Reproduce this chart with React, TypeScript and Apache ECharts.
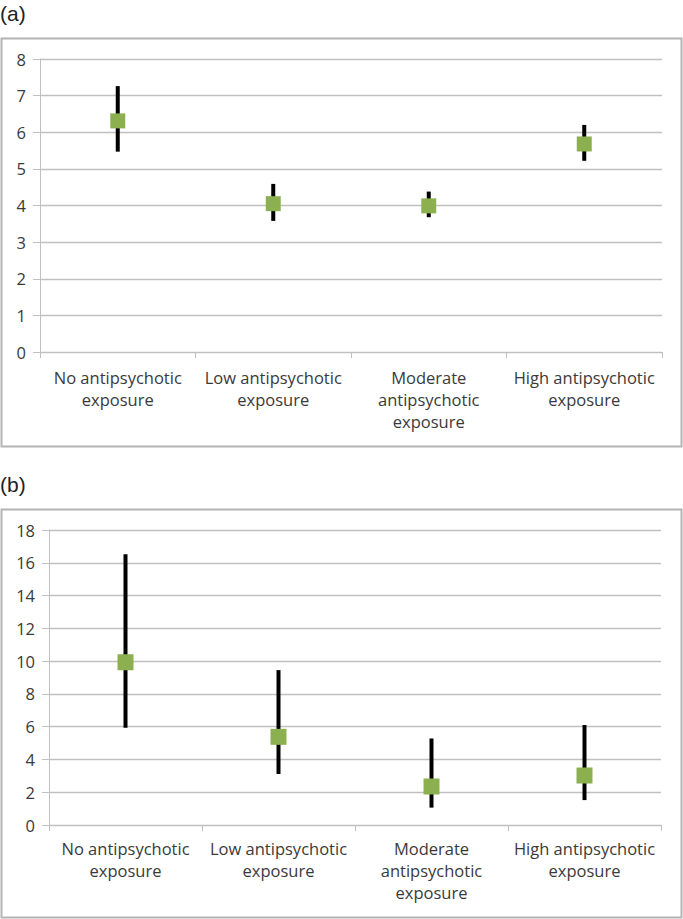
import React, { useEffect, useRef } from "react";
import * as echarts from "echarts";

const categories = [
  "No antipsychotic\nexposure",
  "Low antipsychotic\nexposure",
  "Moderate\nantipsychotic\nexposure",
  "High antipsychotic\nexposure",
];

// Panel (a)
const aMean = [6.31, 4.05, 3.99, 5.68];
const aLow = [5.47, 3.58, 3.68, 5.22];
const aHigh = [7.26, 4.59, 4.38, 6.2];

// Panel (b)
const bMean = [9.93, 5.38, 2.35, 3.02];
const bLow = [5.93, 3.11, 1.06, 1.52];
const bHigh = [16.52, 9.45, 5.28, 6.1];

const FONT = "Open Sans";
const TEXT = "#3a3a3a";
const GRIDC = "#c0c0c0";
const GREEN = "#8cb050";

export default function App() {
  const ref = useRef<HTMLDivElement>(null);
  useEffect(() => {
    const chart = echarts.init(ref.current!, undefined, { renderer: "svg" });

    const xAxisBase = (gridIndex: number, margin: number) => ({
      type: "category",
      gridIndex,
      data: categories,
      boundaryGap: true,
      axisLine: { show: true, lineStyle: { color: GRIDC, width: 1 } },
      axisTick: { show: true, length: 6, alignWithLabel: false, lineStyle: { color: GRIDC } },
      axisLabel: {
        interval: 0,
        margin,
        fontFamily: FONT,
        fontSize: 16.5,
        lineHeight: 22,
        color: TEXT,
      },
    });
    const yAxisBase = (gridIndex: number, max: number, interval: number, margin: number) => ({
      type: "value",
      gridIndex,
      min: 0,
      max,
      interval,
      axisLine: { show: true, lineStyle: { color: GRIDC, width: 1 } },
      axisTick: { show: true, length: 7, lineStyle: { color: GRIDC } },
      splitLine: { show: true, lineStyle: { color: GRIDC, width: 1.3 } },
      axisLabel: { margin, fontFamily: FONT, fontSize: 16.5, color: TEXT },
    });

    const errSeries = (idx: number, low: number[], high: number[]) => ({
      type: "custom",
      xAxisIndex: idx,
      yAxisIndex: idx,
      z: 2,
      encode: { x: 0, y: [1, 2] },
      data: low.map((l, i) => [i, l, high[i]]),
      renderItem: (params: any, api: any) => {
        const x = api.value(0);
        const p1 = api.coord([x, api.value(1)]);
        const p2 = api.coord([x, api.value(2)]);
        return {
          type: "line",
          shape: { x1: p1[0], y1: p1[1], x2: p2[0], y2: p2[1] },
          style: { stroke: "#000", lineWidth: 4 },
        };
      },
    });
    const meanSeries = (idx: number, vals: number[], size: number) => ({
      type: "scatter",
      xAxisIndex: idx,
      yAxisIndex: idx,
      z: 5,
      symbol: "rect",
      symbolSize: size,
      itemStyle: { color: GREEN, opacity: 1 },
      data: vals,
    });

    chart.setOption({
      animation: false,
      backgroundColor: "#fff",
      grid: [
        { left: 40, right: 21, top: 59, height: 293 },
        { left: 49, right: 22, top: 530, height: 295 },
      ],
      xAxis: [xAxisBase(0, 14), xAxisBase(1, 12)],
      yAxis: [yAxisBase(0, 8, 1, 14), yAxisBase(1, 18, 2, 14)],
      series: [
        errSeries(0, aLow, aHigh),
        meanSeries(0, aMean, 15),
        errSeries(1, bLow, bHigh),
        meanSeries(1, bMean, 16),
      ],
      graphic: [
        {
          type: "rect",
          shape: { x: 1.5, y: 38.5, width: 680, height: 408 },
          style: { fill: "none", stroke: "#b4b4b4", lineWidth: 2 },
          silent: true,
        },
        {
          type: "rect",
          shape: { x: 1.5, y: 509.5, width: 680, height: 408 },
          style: { fill: "none", stroke: "#b4b4b4", lineWidth: 2 },
          silent: true,
        },
        {
          type: "text",
          left: 0,
          top: 3,
          style: { text: "(a)", fontFamily: "Liberation Sans", fontSize: 21, fill: "#222" },
        },
        {
          type: "text",
          left: 0,
          top: 474,
          style: { text: "(b)", fontFamily: "Liberation Sans", fontSize: 21, fill: "#222" },
        },
      ],
    });
    return () => chart.dispose();
  }, []);
  return (
    <div
      ref={ref}
      style={{ position: "absolute", left: 0, top: 0, width: 683, height: 919 }}
    />
  );
}
